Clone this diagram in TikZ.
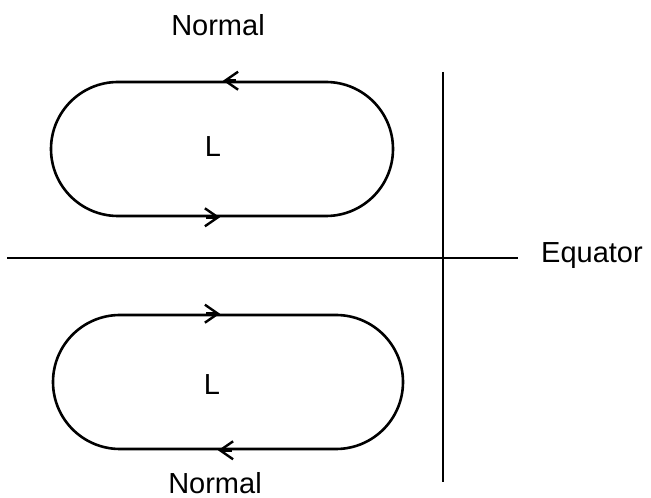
\documentclass[tikz,border=0pt]{standalone}
\usepackage{fontspec}
\setmainfont{Liberation Sans}
\usetikzlibrary{shapes,arrows.meta,positioning}
\tikzset{
	cell/.style = {draw, rounded rectangle, line width=2.6pt, minimum height=134pt, inner sep=0pt},
	axis/.style = {line width=1.9pt},
	barb/.style = {line width=2.6pt, -{Straight Barb[length=13pt,width=18pt,line width=2.4pt]}},
	lbl/.style = {font=\fontsize{29}{34}\selectfont, inner sep=0pt}
}

\begin{document}
\begin{tikzpicture}[x=1pt,y=1pt]
	\useasboundingbox (0,0) rectangle (651,498);
	% the two loops
	\node[cell, minimum width=342pt] (upper) at (222,349) {};
	\node[cell, minimum width=350pt] (lower) at (228,116) {};
	\node[lbl] (Lup) at (213,351) {L};
	\node[lbl] (Llow) at (212,113) {L};
	% sense of circulation
	\draw[barb] ([xshift=14pt]upper.north) -- ([xshift=1pt]upper.north);
	\draw[barb] ([xshift=-16pt]upper.south) -- ([xshift=-2pt]upper.south);
	\draw[barb] ([xshift=-22pt]lower.north) -- ([xshift=-8pt]lower.north);
	\draw[barb] ([xshift=4pt]lower.south) -- ([xshift=-10pt]lower.south);
	% axes
	\coordinate (eqW) at (7,240);
	\coordinate (eqE) at (518,240);
	\coordinate (axN) at (443,426);
	\coordinate (axS) at (443,16);
	\draw[axis] (eqW) -- (eqE);
	\draw[axis] (axN) -- (axS);
	\node[lbl, anchor=base west] (equator) at (541,235) {Equator};
	\node[lbl] (normtop) at (218,473) {Normal};
	\node[lbl] (normbot) at (215,15) {Normal};
\end{tikzpicture}
\end{document}
